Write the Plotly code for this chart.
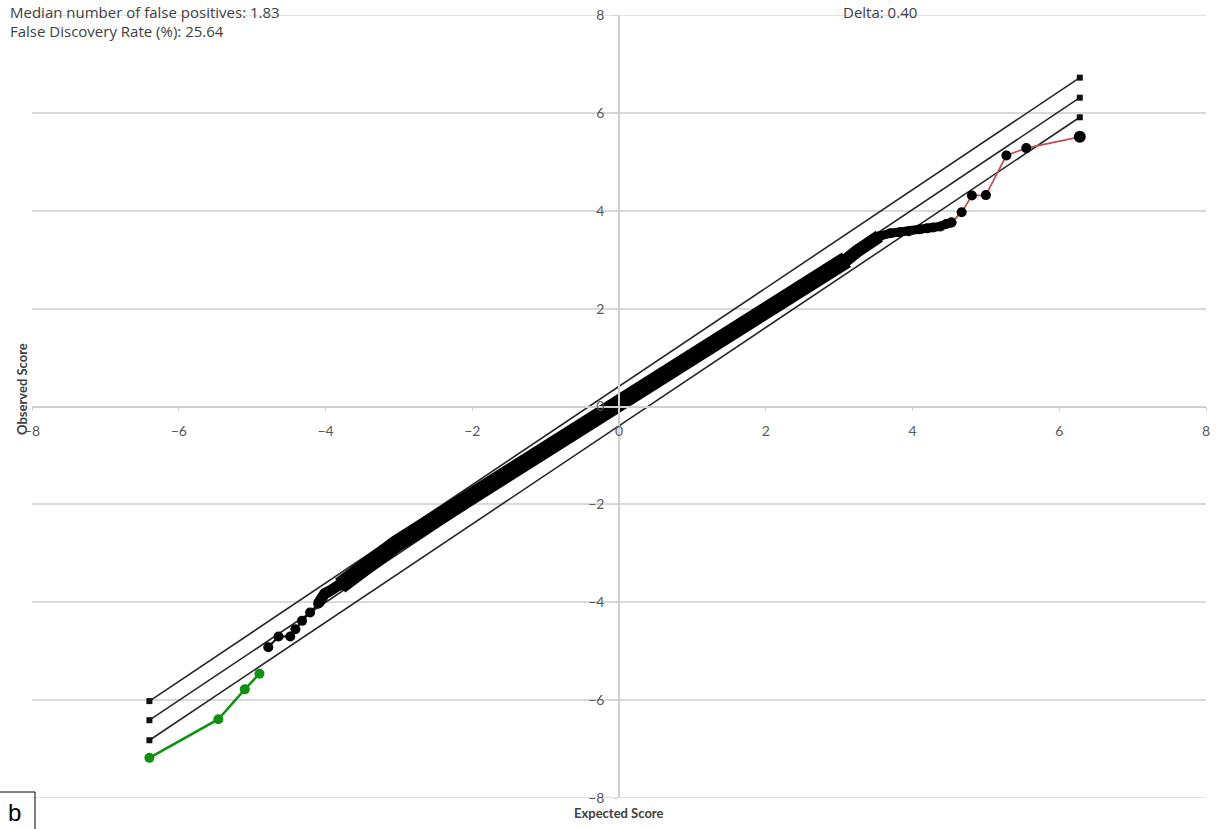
import plotly.graph_objects as go

# ---- data ----
ref_x = [-6.40, 6.28]
ref_upper = [-6.02, 6.72]
ref_mid = [-6.41, 6.31]
ref_lower = [-6.82, 5.91]

obs_x = [-4.78, -4.64, -4.48, -4.41, -4.32, -4.21, -4.10, -4.01, -3.94, -3.80,
         -3.66, -3.53, -3.39, -3.21, -3.03, -2.85, -2.67, -2.40, -2.10, -1.80,
         -1.50, -1.20, -0.90, -0.60, -0.30, 0.00, 0.30, 0.60, 0.90, 1.20,
         1.50, 1.80, 2.10, 2.40, 2.70, 2.92, 3.10, 3.24, 3.40, 3.55,
         3.70, 3.83, 3.95, 4.10, 4.20, 4.28, 4.38, 4.46, 4.53]
obs_y = [-4.92, -4.70, -4.70, -4.55, -4.38, -4.21, -4.03, -3.82, -3.77, -3.66,
         -3.49, -3.32, -3.15, -2.97, -2.80, -2.63, -2.46, -2.22, -1.93, -1.63,
         -1.34, -1.05, -0.76, -0.47, -0.18, 0.08, 0.31, 0.60, 0.89, 1.18,
         1.48, 1.79, 2.09, 2.38, 2.64, 2.82, 3.00, 3.17, 3.36, 3.48,
         3.54, 3.56, 3.58, 3.62, 3.64, 3.66, 3.68, 3.73, 3.76]

pos_x = [4.53, 4.67, 4.81, 5.00, 5.28, 5.55, 6.28]
pos_y = [3.76, 3.97, 4.31, 4.32, 5.13, 5.28, 5.51]

neg_x = [-6.40, -5.46, -5.10, -4.90]
neg_y = [-7.18, -6.39, -5.78, -5.46]

axis_ticks = [-8, -6, -4, -2, 0, 2, 4, 6, 8]

fig = go.Figure()

for ry in (ref_upper, ref_mid, ref_lower):
    fig.add_trace(go.Scatter(x=ref_x, y=ry, mode="lines+markers",
                             line=dict(color="#262626", width=1.6),
                             marker=dict(symbol="square", size=6, color="#111111"),
                             showlegend=False, hoverinfo="skip"))

# dense band of observed scores (thickness tapers toward the sparse ends)
band_segments = [(9, 37, 17), (34, 40, 13), (38, 49, 9), (6, 11, 11)]
for i0, i1, w in band_segments:
    fig.add_trace(go.Scatter(x=obs_x[i0:i1], y=obs_y[i0:i1], mode="lines",
                             line=dict(color="#000000", width=w),
                             showlegend=False, hoverinfo="skip"))
fig.add_trace(go.Scatter(x=obs_x, y=obs_y, mode="lines+markers",
                         line=dict(color="#000000", width=2),
                         marker=dict(size=10, color="#000000", opacity=1),
                         showlegend=False))

fig.add_trace(go.Scatter(x=pos_x, y=pos_y, mode="lines+markers",
                         line=dict(color="#c0504d", width=1.8),
                         marker=dict(size=[10, 10, 10, 10, 10, 10, 12], color="#000000",
                                     opacity=1, line=dict(width=0)),
                         showlegend=False))

fig.add_trace(go.Scatter(x=neg_x, y=neg_y, mode="lines+markers",
                         line=dict(color="#119111", width=2.5),
                         marker=dict(size=10, color="#119111", opacity=1),
                         showlegend=False))

tickfont = dict(family="Lato", size=14, color="#595959")
fig.update_layout(
    width=1221, height=829,
    margin=dict(l=32, r=15, t=15, b=31),
    paper_bgcolor="white", plot_bgcolor="white",
    xaxis=dict(range=[-8, 8], anchor="free", position=0.5, showline=True,
               linecolor="#cfcfcf", linewidth=1.5, showgrid=False, zeroline=False,
               tickvals=axis_ticks, ticks="outside", ticklen=4, tickcolor="#cfcfcf",
               tickfont=tickfont, ticklabelstandoff=8, automargin=False),
    yaxis=dict(range=[-8, 8], anchor="free", position=0.5, showline=True,
               linecolor="#cfcfcf", linewidth=1.5, showgrid=True, gridcolor="#d9d9d9",
               gridwidth=1.5, zeroline=False, tickvals=axis_ticks, ticks="outside",
               ticklen=4, tickcolor="#cfcfcf", tickfont=tickfont, ticklabelstandoff=7,
               automargin=False),
    font=dict(family="Lato"),
)

# edge gridlines (at 8 and -8)
for yv in (axis_ticks[0], axis_ticks[-1]):
    fig.add_shape(type="line", xref="paper", yref="y", x0=0, x1=1, y0=yv, y1=yv,
                  line=dict(color="#d9d9d9", width=1.5), layer="below")

W, H = 1174.0, 783.0
def px(xp):
    return (xp - 32) / W
def py(yp):
    return (798 - yp) / H

topfont = dict(family="Open Sans", size=15, color="#404040")
ann = [
    dict(text="<b>Expected Score</b>", x=px(619), y=py(813), font=dict(size=13, color="#404040")),
    dict(text="<b>Observed Score</b>", x=px(22), y=py(389), textangle=-90,
         font=dict(size=13, color="#404040")),
    dict(text="False Discovery Rate (%): 25.64", x=px(8), y=py(31), xanchor="left",
         font=topfont),
    dict(text="Median number of false positives: 1.83", x=px(8), y=py(12), xanchor="left",
         font=topfont),
    dict(text="Delta: 0.40", x=px(880), y=py(12), font=topfont),
    dict(text="b", x=px(14), y=py(812), font=dict(family="Arial", size=24, color="#000000")),
]
for a in ann:
    a.setdefault("xanchor", "center")
    a.update(xref="paper", yref="paper", yanchor="middle", showarrow=False)
fig.update_layout(annotations=ann)

fig.add_shape(type="rect", xref="paper", yref="paper",
              x0=px(-2), x1=px(35), y0=py(840), y1=py(792),
              line=dict(color="#000000", width=1), fillcolor="rgba(0,0,0,0)")

fig.write_html("out.html")
